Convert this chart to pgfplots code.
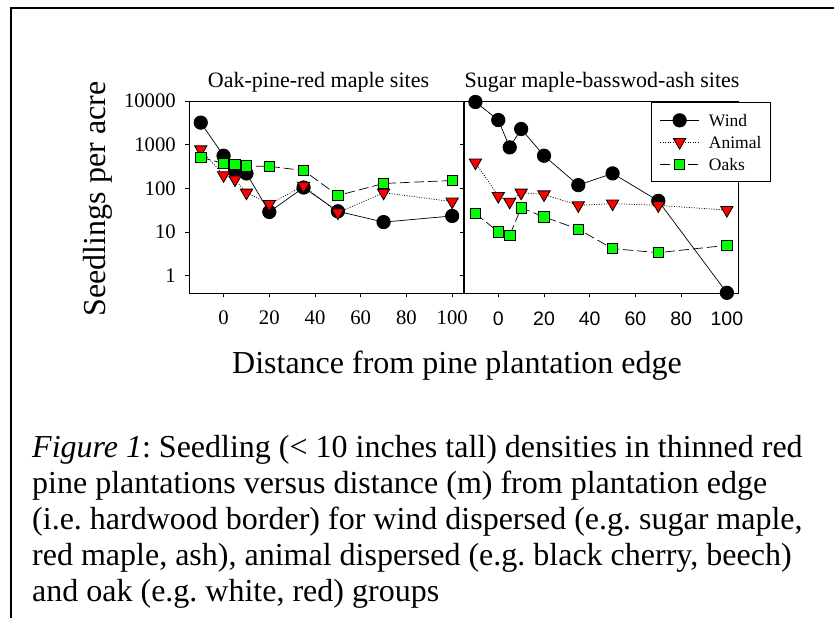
\documentclass[border=0pt]{standalone}
\usepackage{pgfplots}
\pgfplotsset{compat=1.18}
\usepackage{pgfplotstable}
\usepackage{fontspec}
\setmainfont{Liberation Serif}
\newfontfamily\arial{Liberation Sans}
\frenchspacing

\definecolor{markred}{RGB}{255,0,0}
\definecolor{markgreen}{RGB}{0,255,0}

% seedlings per acre, columns: distance, wind, animal, oaks
\pgfplotstableread{
x wind animal oaks
-10 3200 780 510
0 560 200 375
5 250 160 355
10 220 80 325
20 29 44 320
35 105 115 258
50 30 28 69
70 17 80 130
100 23.5 50 152
}\oakpine

\pgfplotstableread{
x wind animal oaks
-10 9500 390 26.7
0 3670 67 10.2
5 870 49.5 8.5
10 2290 80 36
20 560 73 22.4
35 119 41 11.7
50 221 45 4.2
70 52 41 3.4
100 0.41 32 5.0
}\sugarmaple

\tikzset{
  windline/.style={black, line width=0.7pt, mark=*, mark size=6.7pt,
    mark options={solid, fill=black, line width=0.8pt}},
  animalline/.style={black, line width=0.7pt, dash pattern=on 1pt off 1.5pt,
    mark=triangle*, mark size=7.1pt,
    mark options={solid, fill=markred, rotate=180, line width=0.8pt}},
  oaksline/.style={black, line width=0.7pt, dash pattern=on 10pt off 4pt,
    mark=square*, mark size=5.2pt,
    mark options={solid, fill=markgreen, line width=0.8pt}},
}

\begin{document}
\begin{tikzpicture}
\path[use as bounding box] (0pt,0pt) rectangle (834pt,618pt);
\draw[line width=2pt] (11pt,0pt) -- (11pt,610pt) -- (834pt,610pt);

\begin{axis}[
  at={(189.3pt,324.7pt)}, anchor=south west,
  scale only axis, width=274.3pt, height=192.3pt,
  ymode=log, xmin=-15, xmax=105, ymin=0.4, ymax=10000,
  xtick={0,20,40,60,80,100}, xticklabels={0,20,40,60,80,100},
  ytick={1,10,100,1000,10000}, yticklabels={1,10,100,1000,10000},
  yminorticks=false, tick align=outside, tick pos=left,
  major tick length=4pt,
  axis line style={line width=0.8pt},
  every tick/.style={black, line width=0.8pt},
  clip=false,
  ticklabel style={font=\fontsize{20.7}{23}\selectfont},
  xticklabel style={yshift=-10pt},
  yticklabel style={xshift=-6pt},
]
  \addplot[windline] table[x=x, y=wind] {\oakpine};
  \addplot[animalline] table[x=x, y=animal] {\oakpine};
  \addplot[oaksline] table[x=x, y=oaks] {\oakpine};
\end{axis}

\begin{axis}[
  at={(464pt,324.7pt)}, anchor=south west,
  scale only axis, width=274.3pt, height=192.3pt,
  ymode=log, xmin=-15, xmax=105, ymin=0.4, ymax=10000,
  xtick={0,20,40,60,80,100}, xticklabels={0,20,40,60,80,100},
  ytick={1,10,100,1000,10000}, yticklabels={},
  yminorticks=false, tick align=outside, tick pos=left,
  major tick length=4pt,
  axis line style={line width=0.8pt},
  every tick/.style={black, line width=0.8pt},
  clip=false,
  xticklabel style={font=\arial\fontsize{19.5}{22}\selectfont, yshift=-11pt},
  legend style={at={(0.682,0.996)}, anchor=north west, draw=black,
    line width=0.8pt, font=\fontsize{17.5}{20}\selectfont,
    inner xsep=8.5pt, inner ysep=11.5pt, row sep=9pt, column sep=9.7pt,
    nodes={inner sep=0pt, text height=12pt, text depth=0pt}},
  legend cell align=left,
  legend image code/.code={\draw[mark repeat=2, mark phase=2, #1]
    plot coordinates {(0pt,0pt) (19.3pt,0pt) (38.6pt,0pt)};},
]
  \addplot[windline] table[x=x, y=wind] {\sugarmaple};
  \addlegendentry{Wind}
  \addplot[animalline] table[x=x, y=animal] {\sugarmaple};
  \addlegendentry{Animal}
  \addplot[oaksline] table[x=x, y=oaks] {\sugarmaple};
  \addlegendentry{Oaks}
\end{axis}

\node[anchor=base, font=\fontsize{22}{24}\selectfont] at (318.5pt,530.7pt) {Oak-pine-red maple sites};
\node[anchor=base, font=\fontsize{22}{24}\selectfont] at (602pt,530.7pt) {Sugar maple-basswod-ash sites};
\node[rotate=90, font=\fontsize{32}{36}\selectfont] at (98pt,419pt) {Seedlings per acre};
\node[anchor=base, font=\fontsize{32}{36}\selectfont] at (457pt,244.7pt) {Distance from pine plantation edge};

\begin{scope}[every node/.style={anchor=base west, inner sep=0pt, font=\fontsize{32}{36}\selectfont}]
\node at (32pt,160.7pt) {\textit{Figure 1}: Seedling (< 10 inches tall) densities in thinned red};
\node at (32pt,124.7pt) {pine plantations versus distance (m) from plantation edge};
\node at (32pt,88.7pt) {(i.e. hardwood border) for wind dispersed (e.g. sugar maple,};
\node at (32pt,52.7pt) {red maple, ash), animal dispersed (e.g. black cherry, beech)};
\node at (32pt,16.7pt) {and oak (e.g. white, red) groups};
\end{scope}
\end{tikzpicture}
\end{document}
